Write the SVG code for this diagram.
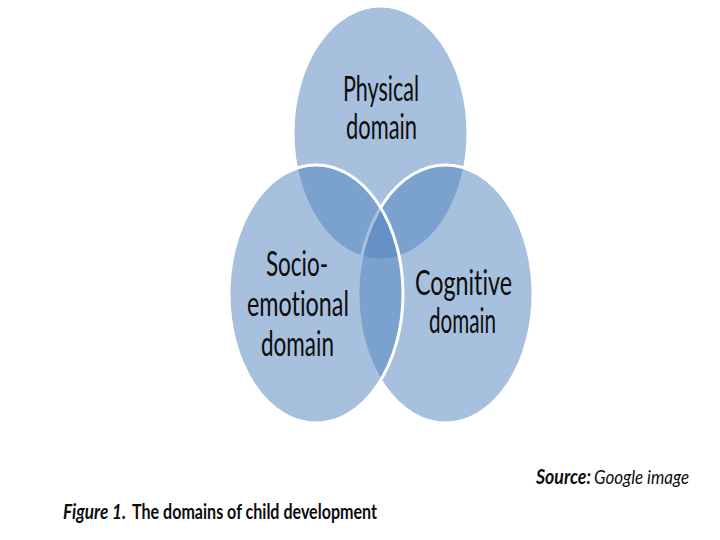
<svg xmlns="http://www.w3.org/2000/svg" width="720" height="540" viewBox="0 0 720 540">
  <style>
    .dom { fill: #4f81bd; fill-opacity: 0.5; stroke: #ffffff; stroke-width: 3; }
    .lbl { font-family: "Liberation Sans Narrow", Lato, "Liberation Sans", sans-serif; font-size: 34px; fill: #0d0d0d; font-variant-ligatures: none; font-feature-settings: "liga" 0; }
    .cap { font-family: "Liberation Sans Narrow", Lato, "Liberation Sans", sans-serif; font-size: 20px; font-weight: bold; fill: #0d0d0d; font-variant-ligatures: none; }
    .it { font-style: italic; }
    .nb { font-weight: normal; }
  </style>
  <rect x="0" y="0" width="720" height="540" fill="#ffffff"/>
  <g id="physical">
    <ellipse class="dom" cx="380.5" cy="133" rx="87.5" ry="127"/>
    <text class="lbl" x="343" y="101" textLength="76" lengthAdjust="spacingAndGlyphs">Physical</text>
    <text class="lbl" x="346" y="139" textLength="71" lengthAdjust="spacingAndGlyphs">domain</text>
  </g>
  <g id="cognitive">
    <ellipse class="dom" cx="445.5" cy="294" rx="87.5" ry="129"/>
    <text class="lbl" x="415" y="295" textLength="97" lengthAdjust="spacingAndGlyphs">Cognitive</text>
    <text class="lbl" x="429" y="333" textLength="67" lengthAdjust="spacingAndGlyphs">domain</text>
  </g>
  <g id="socio-emotional">
    <ellipse class="dom" cx="316" cy="294" rx="87" ry="129"/>
    <text class="lbl" x="266" y="276" textLength="62" lengthAdjust="spacingAndGlyphs">Socio-</text>
    <text class="lbl" x="247" y="316" textLength="102" lengthAdjust="spacingAndGlyphs">emotional</text>
    <text class="lbl" x="261" y="356" textLength="73" lengthAdjust="spacingAndGlyphs">domain</text>
  </g>
  <g id="captions">
    <text class="cap it" x="536" y="484" textLength="55" lengthAdjust="spacingAndGlyphs">Source:</text>
    <text class="cap it nb" x="594" y="484" textLength="95" lengthAdjust="spacingAndGlyphs">Google image</text>
    <text class="cap it" x="63" y="519" textLength="63" lengthAdjust="spacingAndGlyphs">Figure 1.</text>
    <text class="cap" x="132" y="519" textLength="245" lengthAdjust="spacingAndGlyphs">The domains of child development</text>
  </g>
</svg>
